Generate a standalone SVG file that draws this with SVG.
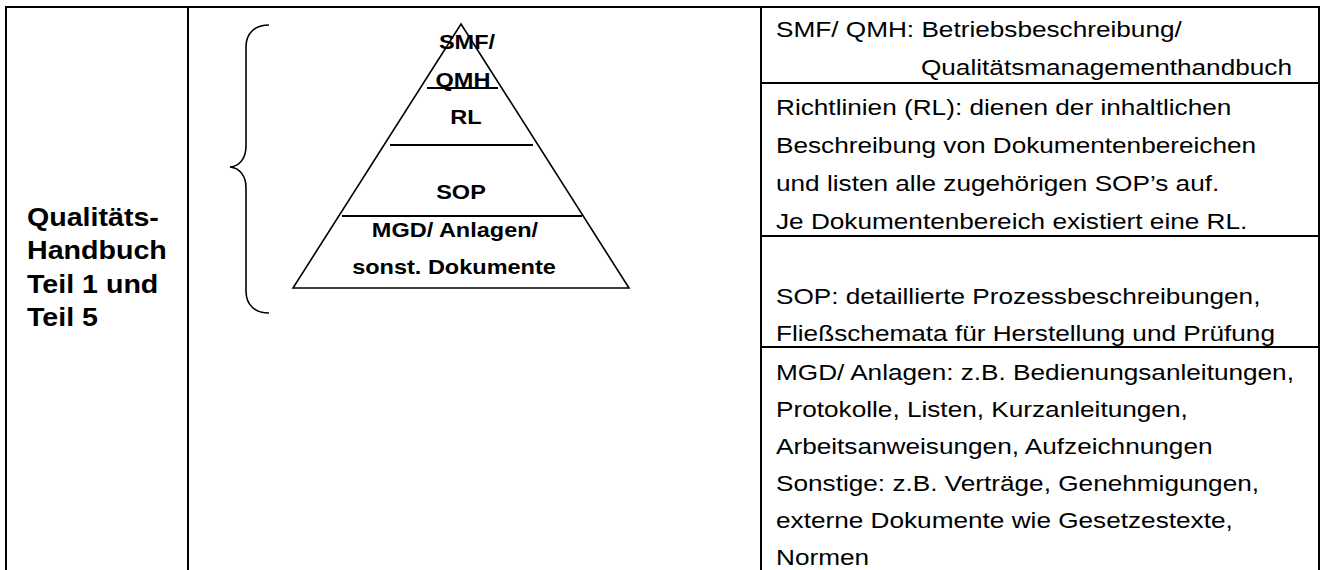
<svg xmlns="http://www.w3.org/2000/svg" width="1320" height="570" viewBox="0 0 1320 570">
<style>
.frame{stroke:#000;stroke-width:2;fill:none}
.thin{stroke:#000;stroke-width:1.6;fill:none}
.rt{font-family:"Liberation Sans",Arial,sans-serif;font-size:22px;fill:#000}
.lb{font-family:"Liberation Sans",Arial,sans-serif;font-size:26px;font-weight:bold;fill:#000}
.pt{font-family:"Liberation Sans",Arial,sans-serif;font-size:21px;font-weight:bold;fill:#000;text-anchor:middle}
</style>
<rect width="1320" height="570" fill="#fff"/>
<g id="table">
<line class="frame" x1="5" y1="7" x2="1320" y2="7"/>
<line class="frame" x1="6" y1="6" x2="6" y2="570"/>
<line class="frame" x1="188" y1="7" x2="188" y2="570"/>
<line class="frame" x1="761" y1="7" x2="761" y2="570"/>
<line class="frame" x1="1319" y1="6" x2="1319" y2="570"/>
<line class="frame" x1="761" y1="83" x2="1320" y2="83"/>
<line class="frame" x1="761" y1="236" x2="1320" y2="236"/>
<line class="frame" x1="761" y1="347" x2="1320" y2="347"/>
</g>
<g id="label">
<g transform="translate(27 0) scale(1.1 1)">
<text class="lb" x="0" y="226">Qualitäts-</text>
<text class="lb" x="0" y="259.5">Handbuch</text>
<text class="lb" x="0" y="293">Teil 1 und</text>
<text class="lb" x="0" y="326.5">Teil 5</text>
</g>
</g>
<g id="brace">
<path class="thin" d="M269,25 C255,25 246,33 246,47 L246,146 C246,158 240,166 230,167 C240,168 246,176 246,188 L246,291 C246,305 255,313 269,313"/>
</g>
<g id="pyramid">
<polygon class="thin" points="461,24 629,288 293,288"/>
<line class="frame" x1="427" y1="88" x2="498" y2="88"/>
<line class="frame" x1="390" y1="145" x2="533" y2="145"/>
<line class="frame" x1="342" y1="216" x2="582" y2="216"/>
<text class="pt" transform="translate(467 0) scale(1.12 1)" x="0" y="49">SMF/</text>
<text class="pt" transform="translate(463 0) scale(1.12 1)" x="0" y="87">QMH</text>
<text class="pt" transform="translate(466 0) scale(1.12 1)" x="0" y="124">RL</text>
<text class="pt" transform="translate(461 0) scale(1.12 1)" x="0" y="199">SOP</text>
<text class="pt" transform="translate(455 0) scale(1.12 1)" x="0" y="237">MGD/ Anlagen/</text>
<text class="pt" transform="translate(454 0) scale(1.12 1)" x="0" y="274">sonst. Dokumente</text>
</g>
<g id="descriptions">
<g transform="translate(776 0) scale(1.19 1)">
<text class="rt" x="0" y="37">SMF/ QMH: Betriebsbeschreibung/</text>
<text class="rt" x="433.6" y="75" text-anchor="end">Qualitätsmanagementhandbuch</text>
<text class="rt" x="0" y="115">Richtlinien (RL): dienen der inhaltlichen</text>
<text class="rt" x="0" y="153">Beschreibung von Dokumentenbereichen</text>
<text class="rt" x="0" y="191">und listen alle zugehörigen SOP’s auf.</text>
<text class="rt" x="0" y="229">Je Dokumentenbereich existiert eine RL.</text>
<text class="rt" x="0" y="304">SOP: detaillierte Prozessbeschreibungen,</text>
<text class="rt" x="0" y="341">Fließschemata für Herstellung und Prüfung</text>
<text class="rt" x="0" y="380">MGD/ Anlagen: z.B. Bedienungsanleitungen,</text>
<text class="rt" x="0" y="417">Protokolle, Listen, Kurzanleitungen,</text>
<text class="rt" x="0" y="454">Arbeitsanweisungen, Aufzeichnungen</text>
<text class="rt" x="0" y="491">Sonstige: z.B. Verträge, Genehmigungen,</text>
<text class="rt" x="0" y="528">externe Dokumente wie Gesetzestexte,</text>
<text class="rt" x="0" y="565">Normen</text>
</g>
</g>
</svg>
